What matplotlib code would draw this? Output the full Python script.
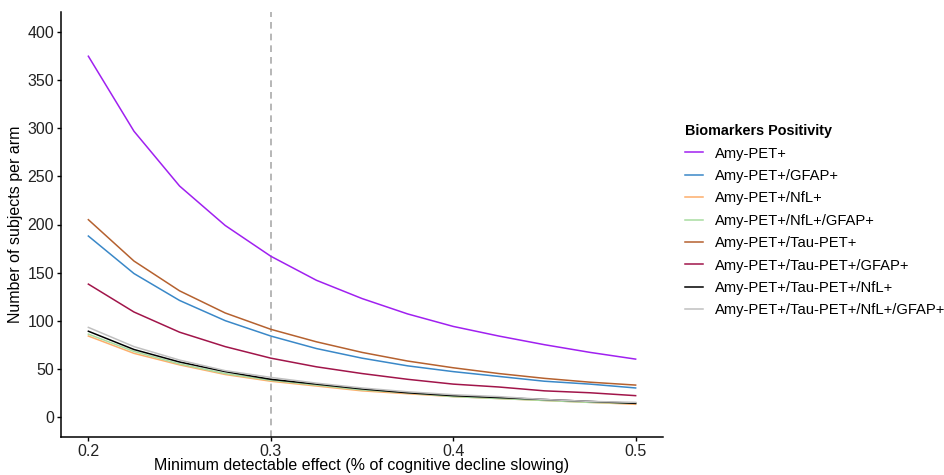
import matplotlib
matplotlib.use("Agg")
import matplotlib.pyplot as plt

plt.rcParams['font.family'] = ['Liberation Sans', 'DejaVu Sans']

# minimum detectable effect (x axis)
effect = [0.2, 0.225, 0.25, 0.275, 0.3, 0.325, 0.35, 0.375, 0.4, 0.425, 0.45, 0.475, 0.5]

amy = [375, 297, 240, 199, 167, 142, 123, 107, 94, 84, 75, 67, 60]
amy_gfap = [188, 149, 121, 100, 84, 71, 61, 53, 47, 42, 37, 34, 30]
amy_nfl = [84, 66, 54, 44, 37, 32, 27, 24, 21, 19, 17, 15, 13]
amy_nfl_gfap = [86, 68, 55, 45, 38, 33, 28, 25, 21, 19, 17, 15, 14]
amy_tau = [205, 162, 131, 108, 91, 78, 67, 58, 51, 45, 40, 36, 33]
amy_tau_gfap = [138, 109, 88, 73, 61, 52, 45, 39, 34, 31, 27, 25, 22]
amy_tau_nfl = [89, 70, 57, 47, 39, 34, 29, 25, 22, 20, 18, 16, 14]
amy_tau_nfl_gfap = [93, 73, 59, 48, 41, 35, 30, 26, 23, 21, 18, 16, 15]

labels = ['Amy-PET+', 'Amy-PET+/GFAP+', 'Amy-PET+/NfL+', 'Amy-PET+/NfL+/GFAP+',
          'Amy-PET+/Tau-PET+', 'Amy-PET+/Tau-PET+/GFAP+', 'Amy-PET+/Tau-PET+/NfL+',
          'Amy-PET+/Tau-PET+/NfL+/GFAP+']
series = [amy, amy_gfap, amy_nfl, amy_nfl_gfap, amy_tau, amy_tau_gfap,
          amy_tau_nfl, amy_tau_nfl_gfap]
colors = ['#A020F0', '#3A88C8', '#FDAE6B', '#A8DCA0', '#B5612F', '#A1154A',
          '#000000', '#C0C0C0']

fig = plt.figure(figsize=(9.44, 4.75), dpi=100)
ax = fig.add_axes([61 / 944, 38 / 475, 602 / 944, 425 / 475])

ax.axvline(0.3, color='#AAAAAA', linestyle=(0, (4, 3)), linewidth=1.2, zorder=1)

for vals, lab, col in zip(series, labels, colors):
    ax.plot(effect, vals, color=col, linewidth=1.1, label=lab, zorder=2)

ax.set_xlim(0.185, 0.515)
ax.set_ylim(-21, 421)
ax.set_xticks([0.2, 0.3, 0.4, 0.5])
ax.set_xticklabels(['0.2', '0.3', '0.4', '0.5'])
ax.set_yticks(range(0, 401, 50))

for s in ['top', 'right']:
    ax.spines[s].set_visible(False)
for s in ['left', 'bottom']:
    ax.spines[s].set_linewidth(1.1)
ax.tick_params(labelsize=11.5, length=3, width=1, pad=2, colors='black', labelcolor='#222222')

ax.set_xlabel('Minimum detectable effect (% of cognitive decline slowing)', fontsize=11.5, labelpad=-1)
ax.set_ylabel('Number of subjects per arm', fontsize=11.5, labelpad=3)

leg = ax.legend(loc='upper left', bbox_to_anchor=(672 / 944, 1 - 111 / 475),
                bbox_transform=fig.transFigure, frameon=False,
                title='Biomarkers Positivity', fontsize=10.6,
                title_fontproperties={'weight': 'bold', 'size': 10.4},
                handlelength=1.2, handletextpad=0.85, labelspacing=0.57,
                borderpad=0.4)
leg._legend_box.align = 'left'

fig.savefig('out.png', dpi=100)
